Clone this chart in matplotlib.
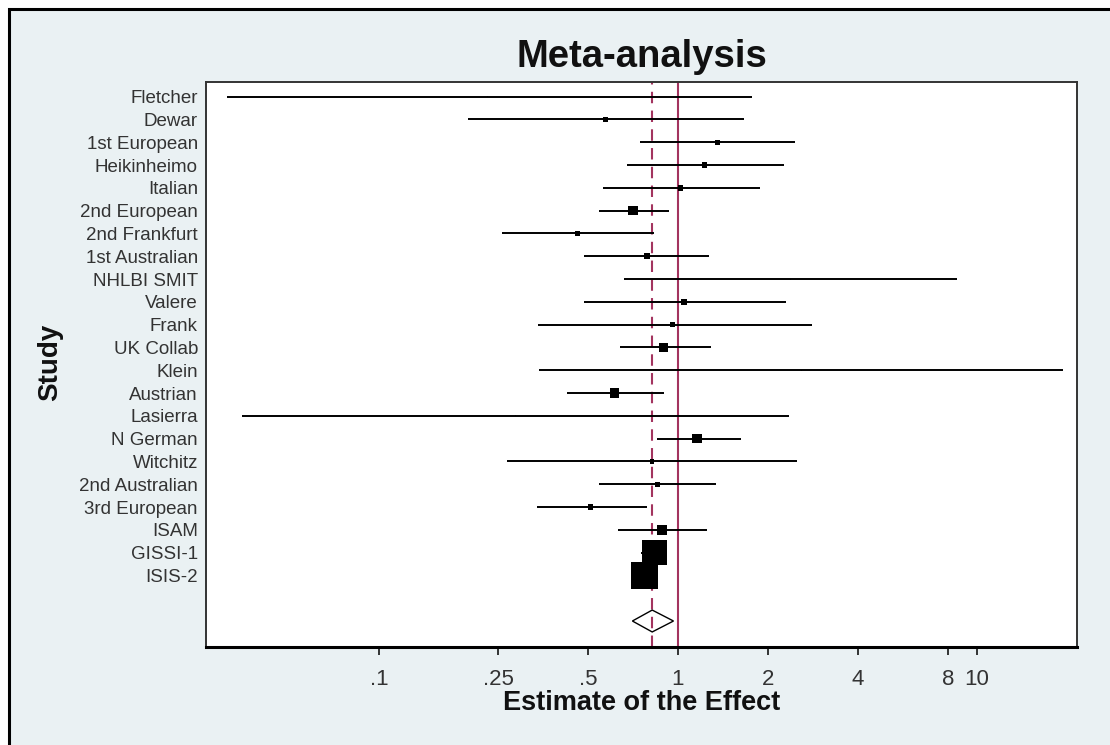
import matplotlib
matplotlib.use('Agg')
import matplotlib.pyplot as plt
from matplotlib.patches import Rectangle
import numpy as np

plt.rcParams['font.family'] = ['Liberation Sans', 'DejaVu Sans']

# studies, top to bottom
studies = ['Fletcher', 'Dewar', '1st European', 'Heikinheimo', 'Italian',
           '2nd European', '2nd Frankfurt', '1st Australian', 'NHLBI SMIT',
           'Valere', 'Frank', 'UK Collab', 'Klein', 'Austrian', 'Lasierra',
           'N German', 'Witchitz', '2nd Australian', '3rd European', 'ISAM',
           'GISSI-1', 'ISIS-2']
estimate = [0.23, 0.573, 1.355, 1.227, 1.018, 0.708, 0.46, 0.786, 2.38,
            1.047, 0.96, 0.893, 2.58, 0.614, 0.287, 1.156, 0.82, 0.853,
            0.509, 0.882, 0.834, 0.773]
ci_low = [0.031, 0.199, 0.748, 0.676, 0.562, 0.545, 0.258, 0.486, 0.658,
          0.486, 0.34, 0.638, 0.344, 0.426, 0.0349, 0.852, 0.269, 0.545,
          0.338, 0.631, 0.75, 0.72]
ci_high = [1.77, 1.665, 2.47, 2.26, 1.875, 0.935, 0.831, 1.269, 8.6,
           2.29, 2.81, 1.289, 19.4, 0.898, 2.36, 1.62, 2.50, 1.344,
           0.786, 1.247, 0.92, 0.83]
# percent weight (box area)
weight = [0.05, 1.3, 1.4, 1.4, 1.3, 4.3, 1.3, 1.5, 0.05, 1.4, 1.3, 4.3,
          0.05, 4.3, 0.05, 4.3, 0.9, 1.4, 1.3, 4.5, 28.0, 36.0]

# pooled estimate
pooled = [0.704, 0.82, 0.966]

xticks = [0.1, 0.25, 0.5, 1, 2, 4, 8, 10]
xtick_labels = ['.1', '.25', '.5', '1', '2', '4', '8', '10']

bg = '#EAF1F3'
red = '#A3345F'

fig = plt.figure(figsize=(11.1, 7.45), dpi=100, facecolor='white')
# outer panel (left/top border only visible, cropped image)
fig.patches.append(Rectangle((8.7 / 1110, -0.2), 1.3, 1.2 - 8.7 / 745,
                             transform=fig.transFigure, facecolor=bg,
                             edgecolor='black', lw=2.2, zorder=-10))

ax = fig.add_axes([206 / 1110, 1 - 647 / 745, 871 / 1110, 565 / 745])
ax.set_facecolor('white')

rows = np.arange(len(studies))
diamond_row = len(studies) + 1

# reference lines
ax.axvline(1, color=red, lw=1.5, zorder=1.5)
ax.axvline(pooled[1], color=red, lw=1.5, ls=(0, (5.5, 3.5)), zorder=1.5)

# confidence intervals
ax.hlines(rows, ci_low, ci_high, color='black', lw=1.4, zorder=2)

# boxes sized by weight (tiny weights vanish into the line)
side = 27.5 * 0.72 * np.sqrt(np.array(weight) / max(weight))
ax.scatter(estimate, rows, s=side ** 2, marker='s', color='black',
           linewidths=0, zorder=3)

# diamond for the overall estimate
h = 0.48
ax.fill([pooled[0], pooled[1], pooled[2], pooled[1]],
        [diamond_row, diamond_row - h, diamond_row, diamond_row + h],
        fill=False, edgecolor='black', lw=1.0, zorder=3)

ax.set_xscale('log')
ax.set_xlim(0.0264, 21.6)
ax.set_ylim(24.14, -0.645)

ax.set_xticks(xticks)
ax.set_xticklabels(xtick_labels)
ax.xaxis.set_minor_locator(matplotlib.ticker.NullLocator())
ax.tick_params(axis='x', direction='out', length=5.8, width=1.1,
               color='black', labelsize=16, labelcolor='#333333', pad=10)

ax.set_yticks(rows)
ax.set_yticklabels(studies)
ax.tick_params(axis='y', length=0, labelsize=13.5, labelcolor='#333333', pad=5.8)

for s in ['top', 'left', 'right']:
    ax.spines[s].set_color('#333333')
    ax.spines[s].set_linewidth(1.4)
ax.spines['bottom'].set_color('black')
ax.spines['bottom'].set_linewidth(2.2)

fig.text(641.5 / 1110, 1 - 66.7 / 745, 'Meta-analysis', ha='center',
         va='baseline', fontsize=27.5, fontweight='bold', color='#111111')
fig.text(641.5 / 1110, 1 - 710 / 745, 'Estimate of the Effect', ha='center',
         va='baseline', fontsize=19.5, fontweight='bold', color='#111111')
fig.text(50 / 1110, 1 - 362 / 745, 'Study', ha='center', va='center',
         rotation=90, fontsize=20, fontweight='bold', color='#111111')

plt.savefig('out.png', dpi=100, facecolor=fig.get_facecolor())
